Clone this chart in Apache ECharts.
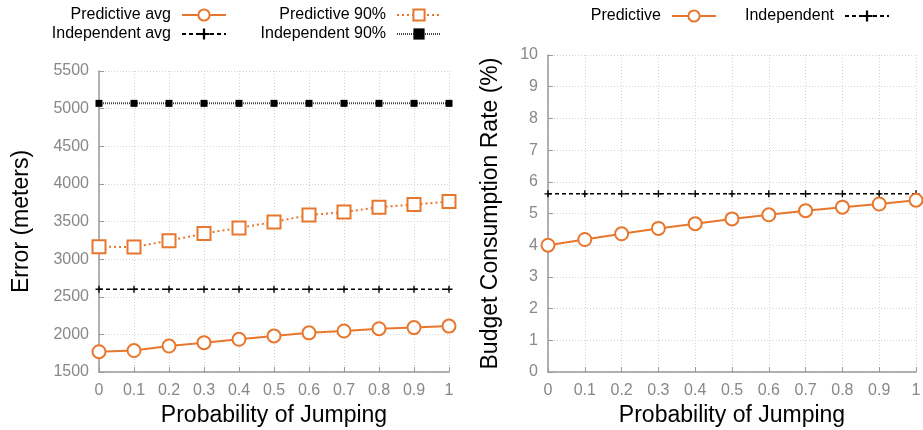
<!DOCTYPE html>
<html>
<head>
<meta charset="utf-8">
<script src="https://cdn.jsdelivr.net/npm/echarts@6/dist/echarts.min.js"></script>
<style>
html,body{margin:0;padding:0;background:#fff;}
#c{width:923px;height:430px;}
</style>
</head>
<body>
<div id="c"></div>
<script>
const xValues = [0, 0.1, 0.2, 0.3, 0.4, 0.5, 0.6, 0.7, 0.8, 0.9, 1];
const predictiveAvg = [1770, 1785, 1845, 1890, 1935, 1980, 2020, 2045, 2075, 2090, 2110];
const predictive90 = [3165, 3160, 3245, 3340, 3415, 3495, 3585, 3625, 3690, 3725, 3765];
const independentAvg = [2600, 2600, 2600, 2600, 2600, 2600, 2600, 2600, 2600, 2600, 2600];
const independent90 = [5070, 5070, 5070, 5070, 5070, 5070, 5070, 5070, 5070, 5070, 5070];
const budgetPredictive = [4.0, 4.18, 4.36, 4.53, 4.68, 4.83, 4.96, 5.09, 5.2, 5.3, 5.42];
const budgetIndependent = [5.62, 5.62, 5.62, 5.62, 5.62, 5.62, 5.62, 5.62, 5.62, 5.62, 5.62];

const FONT = "'Liberation Sans', Arial, sans-serif";
const ORANGE = '#e8772e';
const PLUS = 'path://M4,0h2v4h4v2h-4v4h-2v-4h-4v-2h4z';

function pairs(ys) { return xValues.map((x, i) => [x, ys[i]]); }

function xAxisCfg(gi) {
  return {
    type: 'value', gridIndex: gi, min: 0, max: 1, interval: 0.1,
    name: 'Probability of Jumping', nameLocation: 'middle', nameGap: 32,
    nameTextStyle: { fontFamily: FONT, fontSize: 23, color: '#000' },
    axisLine: { show: true, lineStyle: { color: '#999', width: 1.5 } },
    axisTick: { show: true, inside: true, length: 5, lineStyle: { color: '#999' } },
    axisLabel: { fontFamily: FONT, fontSize: 16, color: '#888', margin: 11,
      formatter: v => String(Math.round(v * 10) / 10) },
    splitLine: { show: true, lineStyle: { color: '#d4d4d4', type: [1, 2], width: 1 } }
  };
}
function yAxisCfg(gi, min, max, interval, name, gap) {
  return {
    type: 'value', gridIndex: gi, min: min, max: max, interval: interval,
    name: name, nameLocation: 'middle', nameGap: gap,
    nameTextStyle: { fontFamily: FONT, fontSize: 23, color: '#000' },
    axisLine: { show: true, lineStyle: { color: '#999', width: 1.5 } },
    axisTick: { show: true, inside: true, length: 5, lineStyle: { color: '#999' } },
    axisLabel: { fontFamily: FONT, fontSize: 16, color: '#888', margin: 10,
      formatter: v => String(v) },
    splitLine: { show: true, lineStyle: { color: '#d4d4d4', type: [1, 2], width: 1 } }
  };
}
function legendCfg(name, right, top) {
  return {
    data: [name], right: right, top: top, align: 'right', orient: 'horizontal',
    itemWidth: 44, itemHeight: 14, itemGap: 0,
    textStyle: { fontFamily: FONT, fontSize: 16, color: '#000', padding: [0, 6, 0, 0] }
  };
}

const option = {
  backgroundColor: '#fff',
  animation: false,
  legend: [
    legendCfg('Predictive avg', 691, 2),
    legendCfg('Independent avg', 691, 21),
    legendCfg('Predictive 90%', 476, 2),
    legendCfg('Independent 90%', 476, 21),
    legendCfg('Predictive', 201, 3),
    legendCfg('Independent', 28, 3)
  ],
  grid: [
    { left: 99, right: 474, top: 71, bottom: 58, outerBoundsMode: 'none', containLabel: false },
    { left: 548, right: 7, top: 55, bottom: 58, outerBoundsMode: 'none', containLabel: false }
  ],
  xAxis: [xAxisCfg(0), xAxisCfg(1)],
  yAxis: [
    yAxisCfg(0, 1500, 5500, 500, 'Error (meters)', 66),
    yAxisCfg(1, 0, 10, 1, 'Budget Consumption Rate (%)', 46)
  ],
  series: [
    {
      name: 'Independent 90%', type: 'line', xAxisIndex: 0, yAxisIndex: 0,
      data: pairs(independent90), symbol: 'rect', symbolSize: 7,
      itemStyle: { color: '#000' },
      lineStyle: { color: '#444', width: 2, type: [1, 1] }
    },
    {
      name: 'Independent avg', type: 'line', xAxisIndex: 0, yAxisIndex: 0,
      data: pairs(independentAvg), symbol: PLUS, symbolSize: 7,
      itemStyle: { color: '#000' },
      lineStyle: { color: '#000', width: 1.5, type: [4, 3] }
    },
    {
      name: 'Predictive 90%', type: 'line', xAxisIndex: 0, yAxisIndex: 0,
      data: pairs(predictive90), symbol: 'rect', symbolSize: 13,
      itemStyle: { color: '#fff', borderColor: ORANGE, borderWidth: 2 },
      lineStyle: { color: ORANGE, width: 2, type: [2, 3] }
    },
    {
      name: 'Predictive avg', type: 'line', xAxisIndex: 0, yAxisIndex: 0,
      data: pairs(predictiveAvg), symbol: 'circle', symbolSize: 13,
      itemStyle: { color: '#fff', borderColor: ORANGE, borderWidth: 2 },
      lineStyle: { color: ORANGE, width: 2 }
    },
    {
      name: 'Independent', type: 'line', xAxisIndex: 1, yAxisIndex: 1,
      data: pairs(budgetIndependent), symbol: PLUS, symbolSize: 7,
      itemStyle: { color: '#000' },
      lineStyle: { color: '#000', width: 1.5, type: [4, 3] }
    },
    {
      name: 'Predictive', type: 'line', xAxisIndex: 1, yAxisIndex: 1,
      data: pairs(budgetPredictive), symbol: 'circle', symbolSize: 13,
      itemStyle: { color: '#fff', borderColor: ORANGE, borderWidth: 2 },
      lineStyle: { color: ORANGE, width: 2 }
    }
  ]
};

const chart = echarts.init(document.getElementById('c'), null, { renderer: 'canvas' });
chart.setOption(option);
</script>
</body>
</html>
